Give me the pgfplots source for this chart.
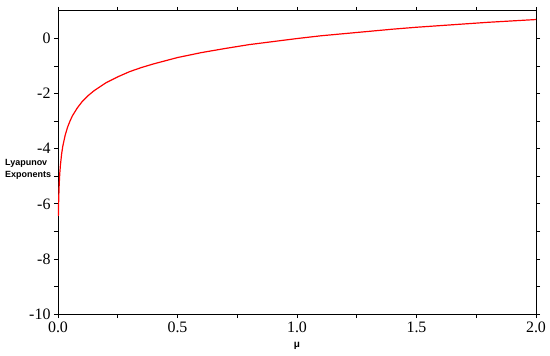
\documentclass[border=0pt]{standalone}
\usepackage{fontspec}
\setmainfont{Liberation Serif}
\newfontfamily\labelfont{Liberation Sans}
\usepackage{pgfplots}
\pgfplotsset{compat=1.18}

\begin{document}
\begin{tikzpicture}
\begin{axis}[
    scale only axis,
    width=478bp, height=303bp,
    xmin=0, xmax=2,
    ymin=-10, ymax=1,
    xtick={0,0.5,1,1.5,2},
    ytick={-10,-8,-6,-4,-2,0},
    minor x tick num=1,
    minor y tick num=1,
    tick align=outside,
    major tick length=4bp,
    minor tick length=4bp,
    every tick/.style={black, line width=0.8bp},
    axis line style={line width=1bp},
    xticklabel style={/pgf/number format/.cd, fixed, fixed zerofill, precision=1},
    /pgf/number format/assume math mode=true,
    ticklabel style={font=\fontsize{16}{17}\selectfont},
    xticklabel shift=0bp,
    yticklabel shift=0bp,
    clip=false,
    every axis x label/.style={at={(rel axis cs:0.5,0)}, anchor=center, yshift=-32bp},
    xlabel={\labelfont\bfseries\fontsize{10}{11}\selectfont μ},
]
% curve
\addplot[red, line width=1.2bp] coordinates {
 (0.0016,-6.44) (0.002,-6.22) (0.003,-5.81) (0.005,-5.30) (0.0075,-4.89)
 (0.01,-4.61) (0.015,-4.20) (0.02,-3.91) (0.03,-3.51) (0.04,-3.22)
 (0.05,-3.00) (0.06,-2.81) (0.08,-2.53) (0.10,-2.30) (0.125,-2.08)
 (0.15,-1.90) (0.20,-1.61) (0.25,-1.39) (0.30,-1.20) (0.35,-1.05)
 (0.40,-0.92) (0.50,-0.69) (0.60,-0.51) (0.70,-0.36) (0.80,-0.22)
 (0.90,-0.11) (1.00,0.00) (1.10,0.10) (1.20,0.18) (1.30,0.26)
 (1.40,0.34) (1.50,0.41) (1.60,0.47) (1.70,0.53) (1.80,0.59)
 (1.90,0.64) (2.00,0.69)
};
\node[anchor=west, align=left, inner sep=0pt, font=\labelfont\bfseries\fontsize{9}{12}\selectfont,
      xshift=-53bp, yshift=-6.5bp] at (rel axis cs:0,0.5) {Lyapunov\\Exponents};
\end{axis}
\path (current axis.south west) ++(-58bp,-42bp) coordinate (bbA);
\path (current axis.north east) ++(14bp,11bp) coordinate (bbB);
\useasboundingbox (bbA) rectangle (bbB);
\end{tikzpicture}
\end{document}
